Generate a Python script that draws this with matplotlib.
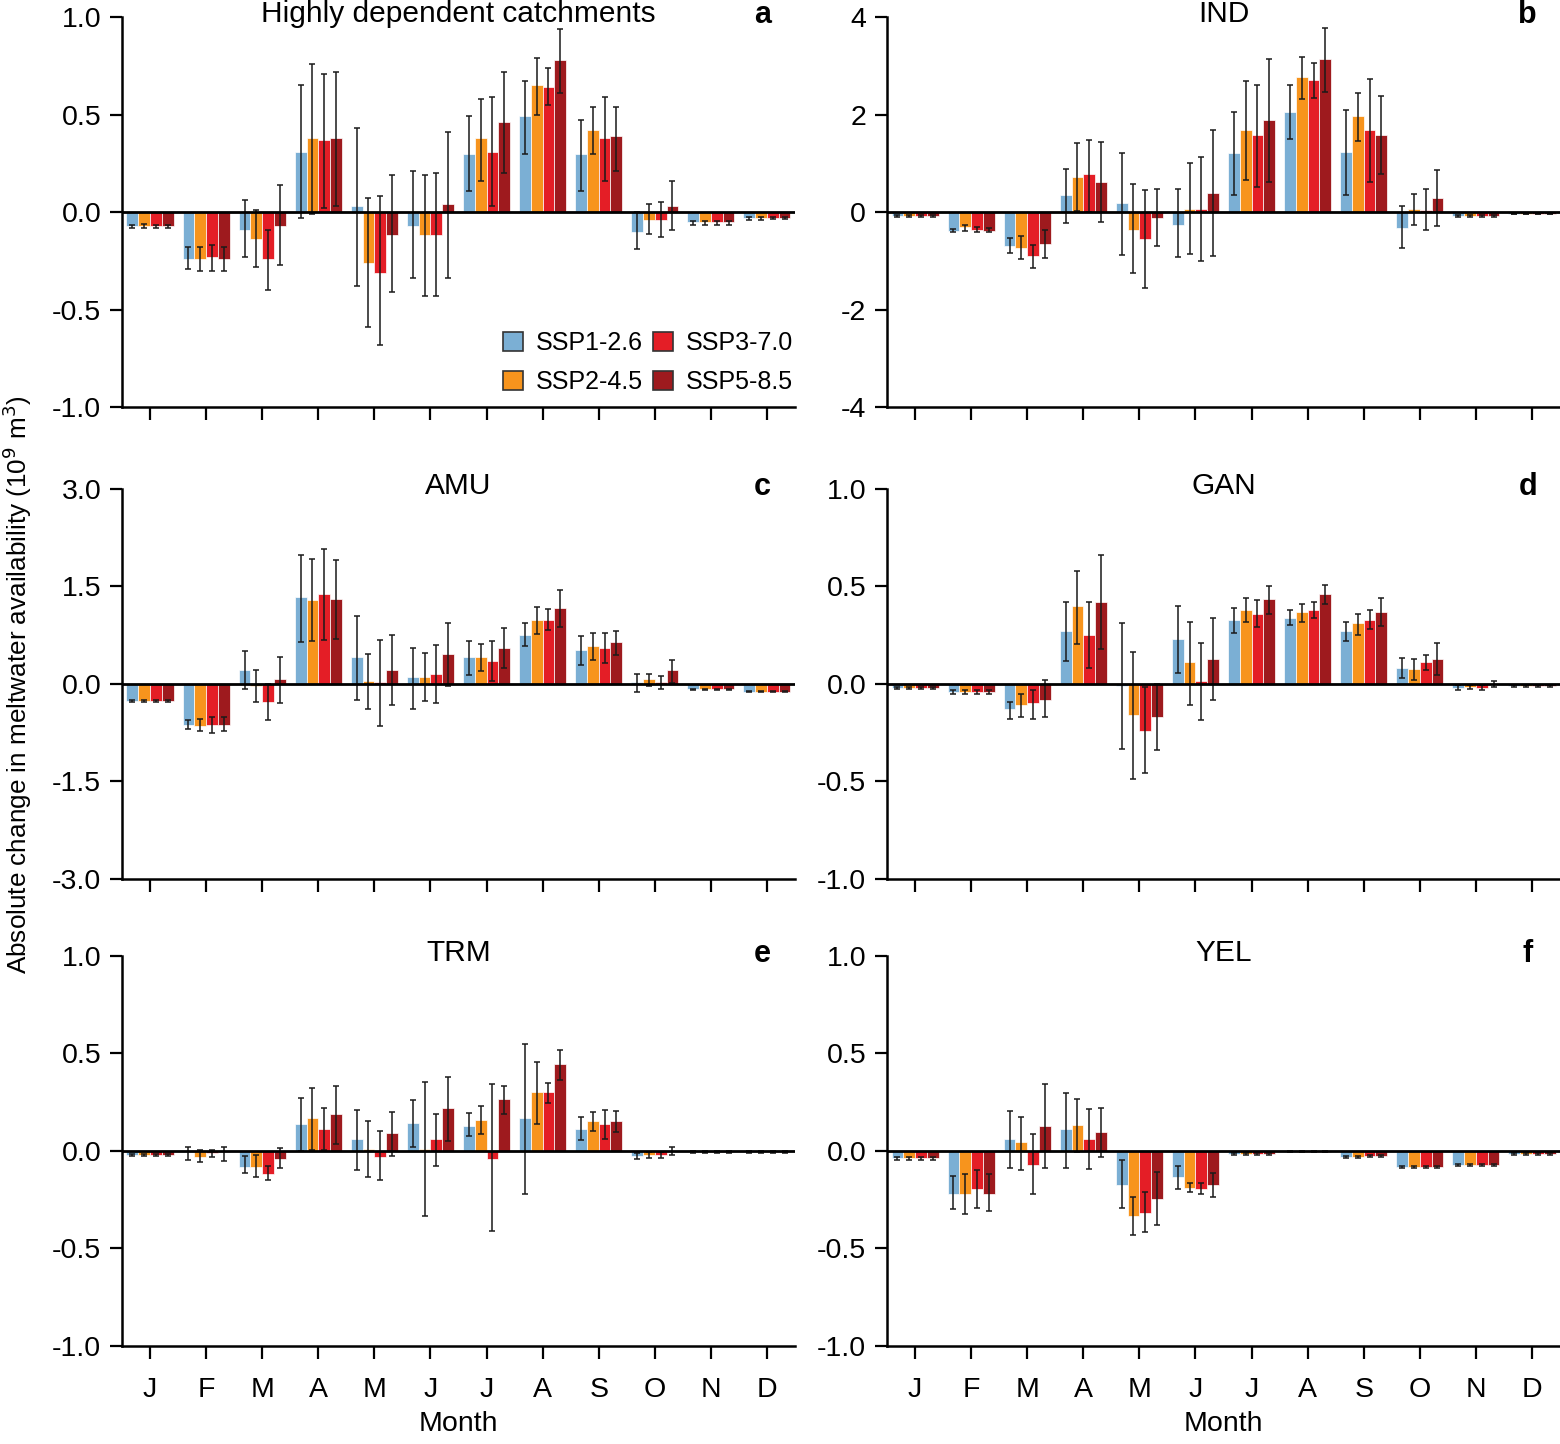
import numpy as np
import matplotlib
matplotlib.use('Agg')
from matplotlib import pyplot as plt
from matplotlib.patches import Patch

plt.rcParams['font.family'] = ['Liberation Sans', 'DejaVu Sans']

months = ['J', 'F', 'M', 'A', 'M', 'J', 'J', 'A', 'S', 'O', 'N', 'D']
scenarios = ['SSP1-2.6', 'SSP2-4.5', 'SSP3-7.0', 'SSP5-8.5']
colors = ['#7BAFD4', '#F7941D', '#E41E26', '#9E1A1E']

# a: Highly dependent catchments (rows = scenarios)
a_mean = [[-0.07, -0.24, -0.09, 0.31, 0.03, -0.07, 0.30, 0.49, 0.30, -0.10, -0.05, -0.03],
          [-0.07, -0.24, -0.14, 0.38, -0.26, -0.12, 0.38, 0.65, 0.42, -0.04, -0.05, -0.03],
          [-0.07, -0.23, -0.24, 0.37, -0.31, -0.12, 0.31, 0.64, 0.38, -0.04, -0.05, -0.03],
          [-0.07, -0.24, -0.07, 0.38, -0.12, 0.04, 0.46, 0.78, 0.39, 0.03, -0.05, -0.03]]
a_lo = [[-0.08, -0.29, -0.23, -0.03, -0.38, -0.34, 0.11, 0.30, 0.11, -0.19, -0.065, -0.04],
        [-0.08, -0.30, -0.28, -0.01, -0.59, -0.43, 0.16, 0.50, 0.30, -0.11, -0.065, -0.04],
        [-0.08, -0.30, -0.40, 0.02, -0.68, -0.43, 0.03, 0.55, 0.16, -0.13, -0.065, -0.035],
        [-0.08, -0.30, -0.27, 0.03, -0.41, -0.34, 0.20, 0.61, 0.21, -0.09, -0.065, -0.035]]
a_hi = [[-0.065, -0.18, 0.06, 0.65, 0.43, 0.21, 0.49, 0.67, 0.47, 0.00, -0.045, -0.025],
        [-0.06, -0.18, 0.01, 0.76, 0.07, 0.19, 0.58, 0.79, 0.54, 0.04, -0.045, -0.025],
        [-0.065, -0.17, -0.09, 0.71, 0.08, 0.20, 0.59, 0.74, 0.59, 0.05, -0.045, -0.025],
        [-0.065, -0.18, 0.14, 0.72, 0.19, 0.41, 0.72, 0.94, 0.54, 0.16, -0.045, -0.025]]

# b: IND
b_mean = [[-0.08, -0.38, -0.69, 0.34, 0.19, -0.26, 1.22, 2.06, 1.23, -0.33, -0.09, -0.04],
          [-0.08, -0.31, -0.74, 0.72, -0.37, 0.07, 1.68, 2.77, 1.97, 0.06, -0.09, -0.04],
          [-0.08, -0.36, -0.91, 0.78, -0.56, 0.07, 1.58, 2.71, 1.68, 0.05, -0.09, -0.04],
          [-0.08, -0.39, -0.66, 0.62, -0.12, 0.40, 1.88, 3.14, 1.59, 0.29, -0.09, -0.04]]
b_lo = [[-0.10, -0.41, -0.84, -0.23, -0.88, -0.93, 0.36, 1.50, 0.36, -0.74, -0.11, -0.05],
        [-0.10, -0.38, -0.97, 0.02, -1.26, -0.86, 0.66, 2.32, 1.45, -0.26, -0.11, -0.05],
        [-0.10, -0.41, -1.14, 0.00, -1.55, -1.00, 0.52, 2.34, 0.62, -0.37, -0.11, -0.05],
        [-0.10, -0.41, -0.94, -0.21, -0.70, -0.91, 0.61, 2.47, 0.79, -0.29, -0.11, -0.05]]
b_hi = [[-0.06, -0.35, -0.54, 0.88, 1.21, 0.47, 2.06, 2.61, 2.10, 0.13, -0.07, -0.03],
        [-0.06, -0.27, -0.50, 1.41, 0.57, 1.01, 2.68, 3.19, 2.44, 0.38, -0.07, -0.03],
        [-0.06, -0.30, -0.68, 1.48, 0.46, 1.12, 2.61, 3.05, 2.72, 0.47, -0.07, -0.03],
        [-0.06, -0.33, -0.37, 1.43, 0.48, 1.69, 3.13, 3.77, 2.38, 0.86, -0.07, -0.03]]

# c: AMU
c_mean = [[-0.26, -0.63, 0.22, 1.33, 0.41, 0.10, 0.41, 0.76, 0.52, 0.03, -0.08, -0.12],
          [-0.26, -0.65, -0.03, 1.29, 0.05, 0.11, 0.41, 0.99, 0.59, 0.07, -0.08, -0.12],
          [-0.26, -0.63, -0.28, 1.38, 0.03, 0.15, 0.36, 0.99, 0.56, 0.03, -0.08, -0.12],
          [-0.26, -0.63, 0.07, 1.30, 0.22, 0.46, 0.56, 1.17, 0.64, 0.21, -0.08, -0.12]]
c_lo = [[-0.28, -0.70, -0.08, 0.64, -0.24, -0.39, 0.14, 0.58, 0.29, -0.12, -0.09, -0.13],
        [-0.28, -0.73, -0.28, 0.66, -0.39, -0.26, 0.20, 0.77, 0.37, -0.03, -0.09, -0.13],
        [-0.28, -0.75, -0.55, 0.67, -0.64, -0.30, 0.04, 0.83, 0.32, -0.08, -0.09, -0.13],
        [-0.28, -0.73, -0.30, 0.69, -0.32, -0.03, 0.25, 0.87, 0.45, 0.01, -0.09, -0.13]]
c_hi = [[-0.24, -0.55, 0.50, 1.98, 1.05, 0.56, 0.66, 0.93, 0.73, 0.16, -0.07, -0.11],
        [-0.24, -0.54, 0.22, 1.92, 0.46, 0.47, 0.62, 1.18, 0.78, 0.16, -0.07, -0.11],
        [-0.24, -0.51, 0.00, 2.07, 0.67, 0.60, 0.66, 1.15, 0.79, 0.13, -0.07, -0.11],
        [-0.24, -0.51, 0.42, 1.90, 0.76, 0.93, 0.86, 1.45, 0.82, 0.37, -0.07, -0.11]]

# d: GAN
d_mean = [[-0.02, -0.04, -0.13, 0.27, -0.01, 0.23, 0.33, 0.34, 0.27, 0.08, -0.02, -0.01],
          [-0.02, -0.04, -0.11, 0.40, -0.16, 0.11, 0.38, 0.37, 0.31, 0.075, -0.015, -0.01],
          [-0.02, -0.04, -0.10, 0.25, -0.24, 0.015, 0.36, 0.38, 0.33, 0.115, -0.02, -0.01],
          [-0.02, -0.04, -0.08, 0.42, -0.17, 0.13, 0.435, 0.46, 0.37, 0.13, 0.0, -0.01]]
d_lo = [[-0.025, -0.05, -0.18, 0.12, -0.335, 0.055, 0.26, 0.30, 0.22, 0.03, -0.03, -0.015],
        [-0.025, -0.05, -0.17, 0.205, -0.485, -0.11, 0.32, 0.32, 0.25, 0.02, -0.025, -0.015],
        [-0.025, -0.05, -0.18, 0.08, -0.455, -0.185, 0.29, 0.34, 0.28, 0.07, -0.03, -0.015],
        [-0.025, -0.05, -0.17, 0.18, -0.34, -0.08, 0.36, 0.41, 0.295, 0.045, -0.015, -0.015]]
d_hi = [[-0.015, -0.03, -0.09, 0.42, 0.31, 0.40, 0.39, 0.38, 0.32, 0.135, -0.005, -0.005],
        [-0.015, -0.03, -0.05, 0.58, 0.165, 0.32, 0.44, 0.41, 0.36, 0.13, -0.005, -0.005],
        [-0.015, -0.03, -0.03, 0.42, -0.015, 0.21, 0.43, 0.42, 0.38, 0.15, -0.005, -0.005],
        [-0.015, -0.03, 0.02, 0.66, 0.0, 0.34, 0.50, 0.505, 0.44, 0.21, 0.015, -0.005]]

# e: TRM
e_mean = [[-0.02, -0.005, -0.08, 0.14, 0.06, 0.145, 0.13, 0.17, 0.115, -0.025, -0.005, -0.005],
          [-0.02, -0.03, -0.08, 0.17, 0.01, 0.01, 0.16, 0.30, 0.155, -0.02, -0.005, -0.005],
          [-0.02, -0.01, -0.12, 0.11, -0.03, 0.06, -0.04, 0.30, 0.14, -0.02, -0.005, -0.005],
          [-0.02, -0.005, -0.04, 0.19, 0.09, 0.22, 0.265, 0.445, 0.155, 0.0, -0.005, -0.005]]
e_lo = [[-0.025, -0.045, -0.115, 0.0, -0.10, 0.02, 0.075, -0.22, 0.055, -0.04, -0.008, -0.008],
        [-0.025, -0.055, -0.135, 0.005, -0.135, -0.335, 0.085, 0.14, 0.10, -0.035, -0.008, -0.008],
        [-0.025, -0.03, -0.15, 0.005, -0.15, -0.075, -0.41, 0.245, 0.06, -0.035, -0.008, -0.008],
        [-0.025, -0.05, -0.09, 0.035, -0.025, 0.05, 0.19, 0.365, 0.095, -0.02, -0.008, -0.008]]
e_hi = [[-0.015, 0.02, -0.025, 0.27, 0.21, 0.26, 0.195, 0.55, 0.175, -0.01, -0.002, -0.002],
        [-0.015, 0.005, -0.02, 0.325, 0.155, 0.355, 0.23, 0.455, 0.20, -0.005, -0.002, -0.002],
        [-0.015, 0.005, -0.075, 0.22, 0.10, 0.19, 0.345, 0.35, 0.21, -0.005, -0.002, -0.002],
        [-0.015, 0.02, 0.015, 0.335, 0.20, 0.38, 0.335, 0.52, 0.205, 0.02, -0.002, -0.002]]

# f: YEL
f_mean = [[-0.037, -0.22, 0.06, 0.11, -0.175, -0.135, -0.015, -0.004, -0.03, -0.08, -0.07, -0.015],
          [-0.037, -0.22, 0.045, 0.135, -0.335, -0.19, -0.015, -0.004, -0.03, -0.08, -0.07, -0.015],
          [-0.037, -0.195, -0.07, 0.06, -0.32, -0.195, -0.015, -0.004, -0.025, -0.08, -0.07, -0.015],
          [-0.037, -0.22, 0.13, 0.095, -0.245, -0.175, -0.015, -0.004, -0.025, -0.08, -0.07, -0.015]]
f_lo = [[-0.045, -0.30, -0.09, -0.085, -0.295, -0.195, -0.02, -0.006, -0.035, -0.085, -0.075, -0.02],
        [-0.045, -0.325, -0.10, -0.005, -0.43, -0.21, -0.02, -0.006, -0.035, -0.085, -0.075, -0.02],
        [-0.045, -0.295, -0.22, -0.095, -0.415, -0.22, -0.02, -0.006, -0.03, -0.085, -0.075, -0.02],
        [-0.045, -0.31, -0.09, -0.03, -0.38, -0.235, -0.02, -0.006, -0.03, -0.085, -0.075, -0.02]]
f_hi = [[-0.03, -0.13, 0.205, 0.295, -0.045, -0.075, -0.01, -0.002, -0.025, -0.075, -0.065, -0.01],
        [-0.03, -0.12, 0.175, 0.265, -0.235, -0.165, -0.01, -0.002, -0.025, -0.075, -0.065, -0.01],
        [-0.03, -0.10, 0.085, 0.215, -0.21, -0.165, -0.01, -0.002, -0.02, -0.075, -0.065, -0.01],
        [-0.03, -0.12, 0.345, 0.22, -0.11, -0.115, -0.01, -0.002, -0.02, -0.075, -0.065, -0.01]]

titles = ['Highly dependent catchments', 'IND', 'AMU', 'GAN', 'TRM', 'YEL']
letters = ['a', 'b', 'c', 'd', 'e', 'f']
ylims = [1.0, 4, 3.0, 1.0, 1.0, 1.0]
yticklabels = [['-1.0', '-0.5', '0.0', '0.5', '1.0'],
               ['-4', '-2', '0', '2', '4'],
               ['-3.0', '-1.5', '0.0', '1.5', '3.0'],
               ['-1.0', '-0.5', '0.0', '0.5', '1.0'],
               ['-1.0', '-0.5', '0.0', '0.5', '1.0'],
               ['-1.0', '-0.5', '0.0', '0.5', '1.0']]
panels = [(a_mean, a_lo, a_hi), (b_mean, b_lo, b_hi), (c_mean, c_lo, c_hi),
          (d_mean, d_lo, d_hi), (e_mean, e_lo, e_hi), (f_mean, f_lo, f_hi)]

fig = plt.figure(figsize=(15.6, 14.44), dpi=100)
lefts = [0.0782, 0.5686]
bottoms = [0.7181, 0.3913, 0.0679]
w, h = 0.4314, 0.2701

x = np.arange(12)
bw = 0.21
for i in range(6):
    ax = fig.add_axes([lefts[i % 2], bottoms[i // 2], w, h])
    mean, lo, hi = panels[i]
    for k in range(4):
        m = np.array(mean[k])
        err = np.array([np.maximum(m - np.array(lo[k]), 0), np.maximum(np.array(hi[k]) - m, 0)])
        ax.bar(x + (k - 1.5) * bw, m, bw, color=colors[k], edgecolor='white', linewidth=0.5,
               yerr=err, error_kw=dict(ecolor='#1a1a1a', elinewidth=1.1, capsize=2.5, capthick=1.1),
               zorder=2)
    ax.axhline(0, color='black', lw=2, zorder=3)
    ym = ylims[i]
    ax.set_ylim(-ym, ym)
    ax.set_yticks(np.linspace(-ym, ym, 5))
    ax.set_yticklabels(yticklabels[i])
    ax.set_xlim(-0.5, 11.5)
    ax.set_xticks(x)
    for s in ['top', 'right']:
        ax.spines[s].set_visible(False)
    for s in ['left', 'bottom']:
        ax.spines[s].set_linewidth(1.8)
    ax.tick_params(direction='out', length=9, width=1.6, labelsize=20.5, pad=6)
    ax.tick_params(axis='x', pad=13)
    if i >= 4:
        ax.set_xticklabels(months)
        ax.set_xlabel('Month', fontsize=20.5, labelpad=6)
    else:
        ax.set_xticklabels([])
    ax.text(0.5, 1.008, titles[i], transform=ax.transAxes, ha='center', va='center', fontsize=21.5)
    ax.text(0.952, 1.005, letters[i], transform=ax.transAxes, ha='center', va='center',
            fontsize=22, fontweight='bold')
    if i == 0:
        handles = [Patch(facecolor=colors[k], edgecolor='#333333', linewidth=1.2, label=scenarios[k])
                   for k in range(4)]
        ax.legend(handles=handles, ncol=2, loc='lower right', bbox_to_anchor=(1.03, -0.025),
                  frameon=False, fontsize=18, handlelength=0.8, handleheight=0.8,
                  handletextpad=0.5, columnspacing=0.4, labelspacing=0.6)

fig.text(0.011, 0.526, r'Absolute change in meltwater availability (10$^9$ m$^3$)',
         rotation=90, ha='center', va='center', fontsize=18.8)

fig.savefig('out.png', dpi=100)
